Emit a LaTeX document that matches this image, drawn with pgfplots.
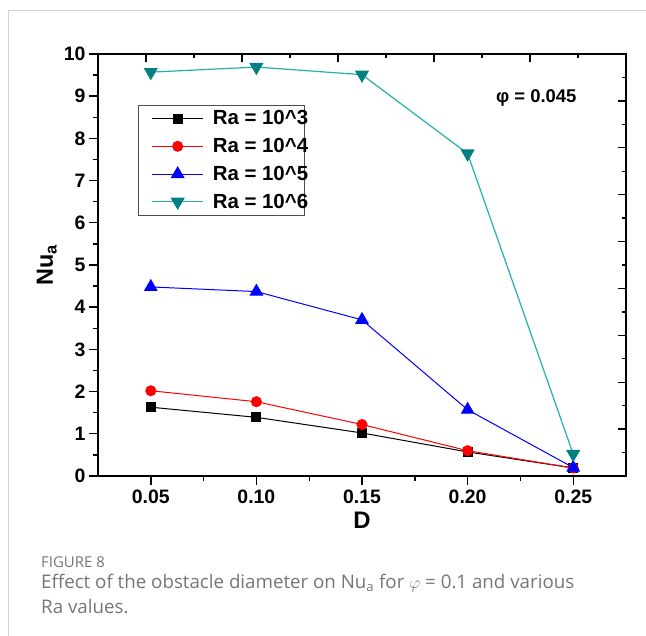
\documentclass[border=0pt]{standalone}
\usepackage{fontspec}
\setmainfont{Liberation Sans}
\newfontfamily\capfont{Open Sans}
\usepackage{pgfplots}
\pgfplotsset{compat=1.18}

\definecolor{framegray}{RGB}{210,210,210}
\definecolor{capgray}{RGB}{118,118,118}
\definecolor{tealline}{RGB}{32,178,170}
\definecolor{tealmark}{RGB}{0,128,128}

\newcommand{\legtext}[1]{#1\kern-8bp\relax}

\begin{document}
\begin{tikzpicture}
\path[use as bounding box] (0bp,0bp) rectangle (646bp,636bp);
% page frame
\draw[framegray,line width=1bp] (8bp,0bp) -- (8bp,625bp) -- (646bp,625bp);

% ticks on the top and right sides
\begin{axis}[
  at={(98bp,160bp)}, anchor=south west,
  scale only axis, width=528bp, height=422bp,
  xmin=0, xmax=11, ymin=0, ymax=18,
  axis line style={line width=1.6bp},
  xtick pos=right, ytick pos=right,
  xtick={1,3,5,7,9}, minor xtick={2,4,6,8,10},
  ytick={2,4,...,16}, minor ytick={1,3,...,17},
  xticklabels={}, yticklabels={},
  tick align=inside,
  major tick length=8bp, minor tick length=4.5bp,
  tick style={line width=1.4bp, black},
]
\end{axis}

\begin{axis}[
  at={(98bp,160bp)}, anchor=south west,
  scale only axis, width=528bp, height=422bp,
  xmin=0.025, xmax=0.275, ymin=0, ymax=10,
  axis line style={line width=1.6bp},
  xtick pos=left, ytick pos=left,
  tick align=outside,
  xtick={0.05,0.10,0.15,0.20,0.25},
  xticklabels={0.05,0.10,0.15,0.20,0.25},
  minor xtick={0.075,0.125,0.175,0.225},
  ytick={0,1,...,10},
  minor ytick={0.5,1.5,...,9.5},
  major tick length=9bp, minor tick length=5bp,
  tick style={line width=1.4bp, black},
  /pgf/number format/assume math mode=true,
  ticklabel style={font=\fontsize{19.5}{19.5}\selectfont\bfseries},
  xticklabel style={yshift=-1bp},
  xlabel={D},
  ylabel={Nu\textsubscript{a}},
  xlabel style={font=\fontsize{24}{24}\selectfont\bfseries, yshift=-2bp},
  ylabel style={font=\fontsize{23.5}{23.5}\selectfont\bfseries,
    at={(axis description cs:-0.097,0.5)}, anchor=center},
  legend style={
    at={(rel axis cs:0.0758,0.880)}, anchor=north west,
    draw=black!70, line width=1.1bp,
    font=\fontsize{20.5}{22}\selectfont\bfseries,
    nodes={inner xsep=1bp},
    inner xsep=3bp, inner ysep=3.5bp,
    row sep=8bp, column sep=8bp,
  },
  legend cell align=left,
  legend image code/.code={%
    \path (-10bp,0bp);
    \draw[#1,mark repeat=2,mark phase=2] plot coordinates {(0bp,0bp) (25.5bp,0bp) (51bp,0bp)};},
  clip=false,
]
\addplot[black, line width=1bp, mark=square*, mark size=4.5bp]
  coordinates {(0.05,1.63) (0.10,1.39) (0.15,1.02) (0.20,0.57) (0.25,0.19)};
\addlegendentry{\legtext{Ra = 10\textasciicircum 3}}
\addplot[red, line width=1bp, mark=*, mark size=5bp]
  coordinates {(0.05,2.02) (0.10,1.76) (0.15,1.22) (0.20,0.60) (0.25,0.19)};
\addlegendentry{\legtext{Ra = 10\textasciicircum 4}}
\addplot[blue, line width=1bp, mark=triangle*, mark size=7bp]
  coordinates {(0.05,4.48) (0.10,4.37) (0.15,3.70) (0.20,1.57) (0.25,0.20)};
\addlegendentry{\legtext{Ra = 10\textasciicircum 5}}
\addplot[tealline, line width=1.2bp, mark=triangle*, mark size=7bp,
  mark options={fill=tealmark, draw=tealmark, rotate=180}]
  coordinates {(0.05,9.57) (0.10,9.69) (0.15,9.51) (0.20,7.64) (0.25,0.52)};
\addlegendentry{\legtext{Ra = 10\textasciicircum 6}}
\node[font=\fontsize{18.5}{18.5}\selectfont\bfseries] at (rel axis cs:0.830,0.896) {φ = 0.045};
\end{axis}

% caption
\node[anchor=base west, inner sep=0pt, text=capgray, font=\capfont\fontsize{15}{15}\selectfont] at (41bp,68bp) {FIGURE 8};
\node[anchor=base west, inner sep=0pt, text=capgray, font=\capfont\fontsize{18.8}{18.8}\selectfont] at (41bp,47bp)
  {Effect of the obstacle diameter on Nu\textsubscript{a} for $\varphi$ = 0.1 and various};
\node[anchor=base west, inner sep=0pt, text=capgray, font=\capfont\fontsize{18.8}{18.8}\selectfont] at (41bp,23bp) {Ra values.};
\end{tikzpicture}
\end{document}
